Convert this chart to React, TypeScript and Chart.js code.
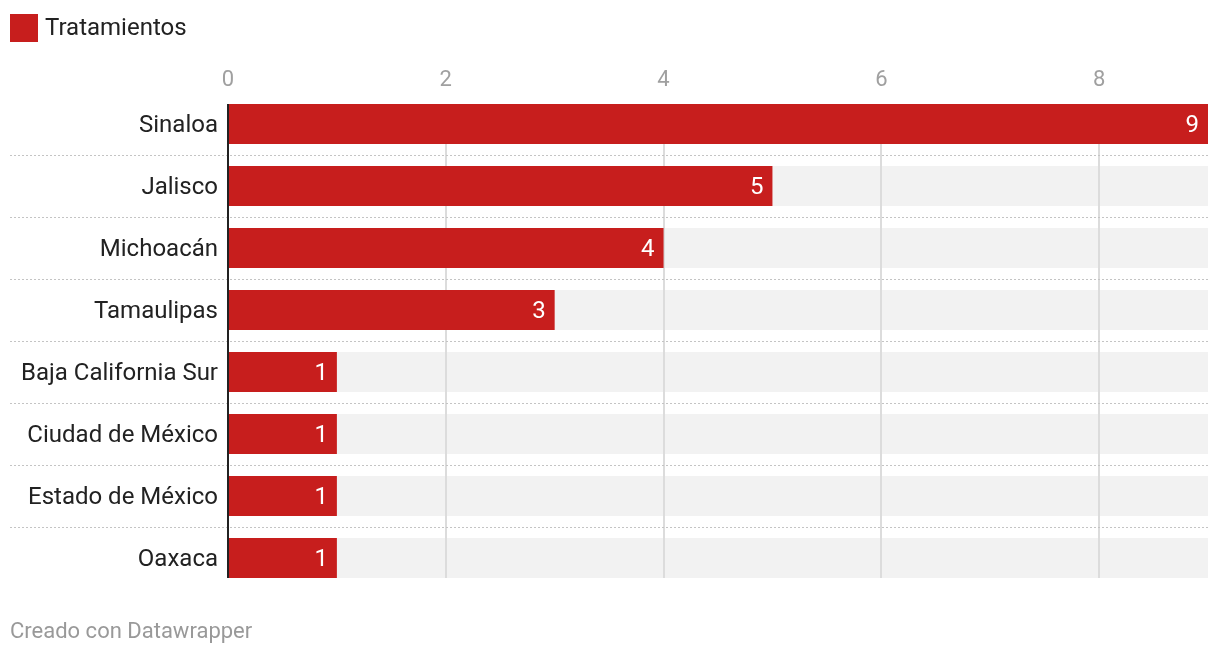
import React, { useEffect, useRef } from "react";
import { Chart, registerables } from "chart.js";

Chart.register(...registerables);

const categories = [
  "Sinaloa",
  "Jalisco",
  "Michoacán",
  "Tamaulipas",
  "Baja California Sur",
  "Ciudad de México",
  "Estado de México",
  "Oaxaca",
];
const tratamientos = [9, 5, 4, 3, 1, 1, 1, 1];
const seriesLabel = "Tratamientos";
const xTicks = [0, 2, 4, 6, 8];
const xMax = 9;

const RED = "#c71e1d";
const FONT = "Roboto, 'Noto Sans', sans-serif";

const decorPlugin = {
  id: "decor",
  beforeDatasetsDraw(chart: any) {
    const ctx = chart.ctx;
    const meta = chart.getDatasetMeta(0);
    const xs = chart.scales.x;
    const area = chart.chartArea;
    const els = meta.data;
    if (!els.length) return;
    ctx.save();
    // grey tracks
    ctx.fillStyle = "#f2f2f2";
    const xl = xs.getPixelForValue(0);
    const xr = xs.getPixelForValue(xMax);
    els.forEach((el: any) => {
      const h = el.height;
      ctx.fillRect(xl, el.y - h / 2, xr - xl, h);
    });
    // vertical gridlines
    const top = els[0].y - els[0].height / 2;
    const last = els[els.length - 1];
    const bottom = last.y + last.height / 2;
    ctx.strokeStyle = "#dcdcdc";
    ctx.lineWidth = 2;
    xTicks.forEach((v) => {
      if (v === 0) return;
      const x = Math.round(xs.getPixelForValue(v));
      ctx.beginPath();
      ctx.moveTo(x, top);
      ctx.lineTo(x, bottom);
      ctx.stroke();
    });
    // dotted row separators
    ctx.strokeStyle = "#c4c4c4";
    ctx.lineWidth = 1;
    ctx.setLineDash([2, 2]);
    for (let i = 0; i < els.length - 1; i++) {
      const y = Math.round((els[i].y + els[i + 1].y) / 2) + 0.5;
      ctx.beginPath();
      ctx.moveTo(10, y);
      ctx.lineTo(area.right, y);
      ctx.stroke();
    }
    ctx.restore();
  },
  afterDatasetsDraw(chart: any) {
    const ctx = chart.ctx;
    const meta = chart.getDatasetMeta(0);
    const xs = chart.scales.x;
    const els = meta.data;
    if (!els.length) return;
    ctx.save();
    // baseline axis
    const top = els[0].y - els[0].height / 2;
    const last = els[els.length - 1];
    const bottom = last.y + last.height / 2;
    const x0 = xs.getPixelForValue(0);
    ctx.strokeStyle = "#222222";
    ctx.lineWidth = 2;
    ctx.beginPath();
    ctx.moveTo(x0, top);
    ctx.lineTo(x0, bottom);
    ctx.stroke();
    // value labels
    ctx.fillStyle = "#ffffff";
    ctx.font = `24px ${FONT}`;
    ctx.textAlign = "right";
    ctx.textBaseline = "middle";
    els.forEach((el: any, i: number) => {
      ctx.fillText(String(tratamientos[i]), el.x - 9, el.y + 2);
    });
    ctx.restore();
  },
};

export default function App() {
  const ref = useRef<HTMLCanvasElement | null>(null);
  useEffect(() => {
    if (!ref.current) return;
    const chart = new Chart(ref.current, {
      type: "bar",
      data: {
        labels: categories,
        datasets: [
          {
            label: seriesLabel,
            data: tratamientos,
            backgroundColor: RED,
            borderWidth: 0,
            barPercentage: 1,
            categoryPercentage: 40 / 62,
          },
        ],
      },
      options: {
        indexAxis: "y",
        animation: false,
        responsive: false,
        maintainAspectRatio: false,
        layout: { padding: { top: 0, bottom: 67, left: 0, right: 12 } },
        plugins: {
          legend: { display: false },
          tooltip: { enabled: false },
        },
        scales: {
          x: {
            position: "top",
            min: 0,
            max: xMax,
            grid: { display: false, drawTicks: false },
            border: { display: false },
            afterFit(scale: any) {
              scale.height = 93;
            },
            afterBuildTicks(scale: any) {
              scale.ticks = xTicks.map((v) => ({ value: v }));
            },
            ticks: {
              color: "#a0a0a0",
              font: { family: FONT, size: 22 },
              padding: -1,
              maxRotation: 0,
            },
          },
          y: {
            grid: { display: false, drawTicks: false },
            border: { display: false },
            afterFit(scale: any) {
              scale.width = 228;
            },
            ticks: {
              color: "#222222",
              font: { family: FONT, size: 24 },
              padding: 10,
              labelOffset: 2,
            },
          },
        },
      },
      plugins: [decorPlugin],
    });
    return () => chart.destroy();
  }, []);

  return (
    <div
      style={{
        position: "fixed",
        left: 0,
        top: 0,
        width: 1220,
        height: 656,
        background: "#ffffff",
        fontFamily: FONT,
      }}
    >
      <canvas
        ref={ref}
        width={1220}
        height={656}
        style={{ position: "absolute", left: 0, top: 0, width: 1220, height: 656 }}
      />
      <div
        style={{
          position: "absolute",
          left: 10,
          top: 14,
          width: 28,
          height: 28,
          background: RED,
        }}
      />
      <div
        style={{
          position: "absolute",
          left: 45,
          top: 12,
          fontSize: 24,
          lineHeight: "30px",
          color: "#222222",
        }}
      >
        {seriesLabel}
      </div>
      <div
        style={{
          position: "absolute",
          left: 10,
          top: 617,
          fontSize: 22,
          lineHeight: "28px",
          color: "#999999",
        }}
      >
        Creado con Datawrapper
      </div>
    </div>
  );
}
